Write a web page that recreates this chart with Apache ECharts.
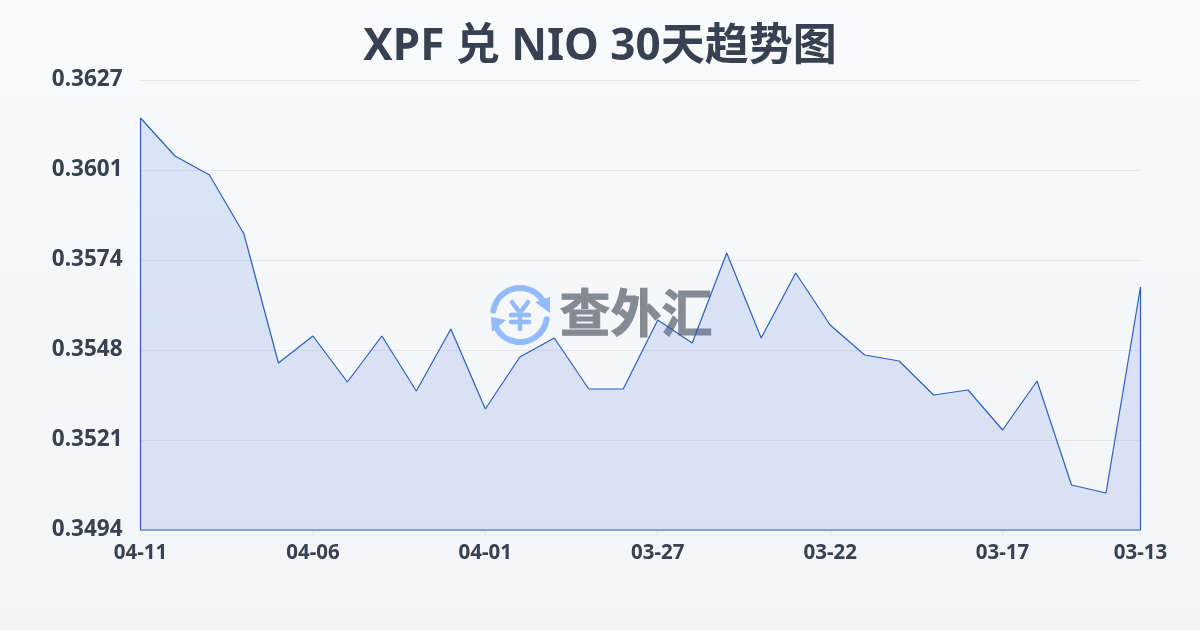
<!DOCTYPE html>
<html><head><meta charset="utf-8">
<style>html,body{margin:0;padding:0;background:#f5f7fa}#c{width:1200px;height:630px}</style>
<script src="https://cdn.jsdelivr.net/npm/echarts@6/dist/echarts.min.js"></script>
</head><body><div id="c"></div>
<script>
const titleText = 'XPF 兑 NIO 30天趋势图';
const watermark = '查外汇';
const dates = ['04-11','04-10','04-09','04-08','04-07','04-06','04-05','04-04','04-03','04-02','04-01','03-31','03-30','03-29','03-28','03-27','03-26','03-25','03-24','03-23','03-22','03-21','03-20','03-19','03-18','03-17','03-16','03-15','03-14','03-13'];
const rates = [0.361577,0.360454,0.359892,0.358148,0.354336,0.355134,0.353774,0.355134,0.353508,0.355341,0.352976,0.354513,0.355075,0.353567,0.353567,0.355607,0.354927,0.357587,0.355075,0.356996,0.355459,0.354572,0.354395,0.35339,0.353538,0.352356,0.353804,0.35073,0.350493,0.356582];
const yMin = 0.3494, yMax = 0.3627;
const yTicks = ['0.3627','0.3601','0.3574','0.3548','0.3521','0.3494'];
const font = '"Noto Sans","Noto Sans CJK SC",sans-serif';
const ink = '#374151', lineBlue = '#2b5fc4', iconBlue = '#93bbfb';
const last = dates.length - 1;
const step = (yMax-yMin)/5;
const chart = echarts.init(document.getElementById('c'), null, {renderer:'canvas'});
const iconStroke = {stroke: iconBlue, lineWidth: 6, lineCap: 'round', fill: null};
const yStroke = {stroke: iconBlue, lineWidth: 4.5, lineCap: 'round', fill: null};
chart.setOption({
  animation:false,
  backgroundColor:{type:'linear',x:0,y:0,x2:0,y2:1,colorStops:[{offset:0,color:'#f8fafc'},{offset:1,color:'#f2f4f7'}]},
  title:{text:titleText,left:'center',top:20,textStyle:{fontFamily:font,fontSize:44,fontWeight:'bold',color:ink}},
  graphic:[
    {type:'group',z:0,silent:true,children:[
      {type:'arc',shape:{cx:520,cy:315,r:27,startAngle:Math.PI*1.05,endAngle:Math.PI*1.85},style:iconStroke},
      {type:'arc',shape:{cx:520,cy:315,r:27,startAngle:Math.PI*0.05,endAngle:Math.PI*0.85},style:iconStroke},
      {type:'polygon',shape:{points:[[550,313],[550,297],[535,302]]},style:{fill:iconBlue}},
      {type:'polygon',shape:{points:[[491,317],[506,320],[492,332]]},style:{fill:iconBlue}},
      {type:'polyline',shape:{points:[[512,302],[520,313],[528,302]]},style:yStroke},
      {type:'line',shape:{x1:520,y1:313,x2:520,y2:329},style:yStroke},
      {type:'line',shape:{x1:511,y1:315,x2:529,y2:315},style:yStroke},
      {type:'line',shape:{x1:511,y1:322,x2:529,y2:322},style:yStroke},
      {type:'text',x:636,y:317,style:{text:watermark,font:'bold 51px '+font,fill:'#858b95',stroke:'#858b95',lineWidth:1,align:'center',verticalAlign:'middle'}}
    ]}
  ],
  grid:{left:140.5,right:59.5,top:80,bottom:100,containLabel:false},
  xAxis:{type:'category',data:dates,boundaryGap:false,
    axisLine:{show:false},
    axisTick:{show:true,alignWithLabel:true,length:6,lineStyle:{color:'#e5e7eb'},interval:(i)=>i%5===0||i===last},
    axisLabel:{interval:(i)=>i%5===0||i===last,margin:13,fontFamily:font,fontSize:20.5,fontWeight:'bold',color:ink},
    splitLine:{show:false}},
  yAxis:{type:'value',min:yMin,max:yMax,interval:step,
    axisLine:{show:false},axisTick:{show:false},
    axisLabel:{margin:18,padding:[0,0,4,0],fontFamily:font,fontSize:22.5,fontWeight:'bold',color:ink,formatter:(v)=>yTicks[Math.round((yMax-v)/step)]},
    splitLine:{lineStyle:{color:'#e5e7eb',width:1}}},
  series:[
    {type:'line',name:'rate',data:rates,symbol:'none',smooth:false,z:3,
     lineStyle:{color:lineBlue,width:1.2},
     areaStyle:{origin:'start',color:{type:'linear',x:0,y:0,x2:0,y2:1,colorStops:[{offset:0,color:'rgba(90,145,232,0.28)'},{offset:1,color:'rgba(65,100,210,0.2)'}]}}},
    {type:'line',name:'outline',data:[[dates[last],rates[last]],[dates[last],yMin],[dates[0],yMin],[dates[0],rates[0]]],
     symbol:'none',clip:false,z:3,lineStyle:{color:lineBlue,width:1.2}}
  ]
});
</script></body></html>
